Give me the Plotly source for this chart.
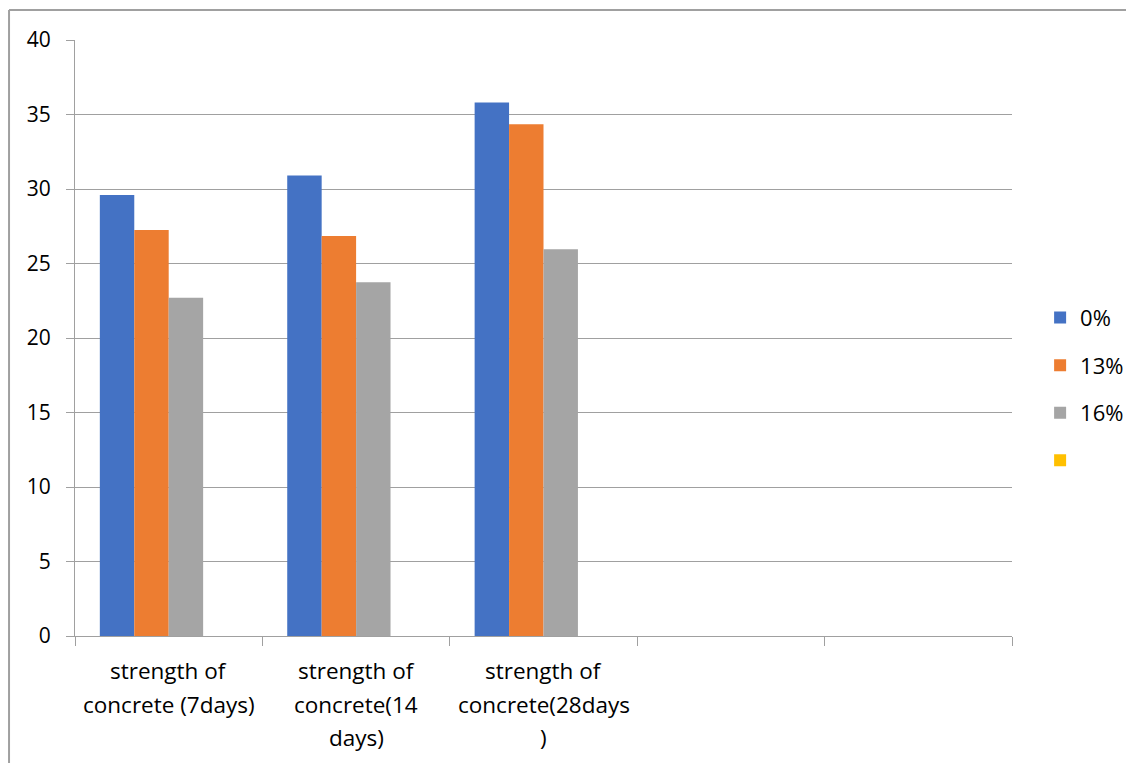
import plotly.graph_objects as go

categories = ["strength of concrete (7days)", "strength of concrete(14 days)",
              "strength of concrete(28days )", " ", "  "]
label_lines = [["strength of", "concrete (7days)"],
               ["strength of", "concrete(14", "days)"],
               ["strength of", "concrete(28days", ")"],
               [], []]
s0 = [29.6, 30.9, 35.8, None, None]
s13 = [27.25, 26.85, 34.35, None, None]
s16 = [22.7, 23.75, 25.95, None, None]
s_blank = [None, None, None, None, None]
series_names = ["0%", "13%", "16%", ""]
colors = ["#4472C4", "#ED7D31", "#A5A5A5", "#FFC000"]
y_ticks = [0, 5, 10, 15, 20, 25, 30, 35, 40]

FONT = "Open Sans"
fig = go.Figure()
for i, (name, vals) in enumerate(zip(series_names, [s0, s13, s16, s_blank])):
    fig.add_trace(go.Bar(x=categories, y=vals, name=name, marker_color=colors[i],
                         marker_line_width=0, legendgroup=f"g{i}", showlegend=True))

for cat, lines in zip(categories, label_lines):
    for j, line in enumerate(lines):
        fig.add_annotation(x=cat, xref="x", y=0, yref="paper", text=line,
                           showarrow=False, yanchor="top", yshift=-17 - 33.5 * j,
                           font=dict(family=FONT, size=22.5, color="#000000"))

fig.update_layout(
    width=1134, height=763,
    margin=dict(l=67, r=130, t=32, b=135),
    paper_bgcolor="white", plot_bgcolor="white",
    barmode="group", bargap=0.265, bargroupgap=0,
    font=dict(family=FONT, size=21, color="#000000"),
    legend=dict(x=1.03, y=0.414, xanchor="left", yanchor="middle",
                tracegroupgap=16, font=dict(family=FONT, size=22),
                itemwidth=30, bgcolor="rgba(0,0,0,0)"),
    xaxis=dict(type="category", showticklabels=False, ticks="outside", tickson="boundaries",
               ticklen=9, tickcolor="#a0a0a0", showline=True, linecolor="#a0a0a0",
               linewidth=1, showgrid=False, range=[-0.5, 4.5]),
    yaxis=dict(range=[0, 40], tickvals=y_ticks, ticks="outside", ticklen=8,
               tickcolor="#a0a0a0", showline=True, linecolor="#a0a0a0", linewidth=1,
               showgrid=True, gridcolor="#a0a0a0", gridwidth=1, zeroline=False,
               tickfont=dict(family=FONT, size=21), ticklabelstandoff=11),
    shapes=[
        dict(type="line", xref="paper", yref="paper", x0=-0.0704, x1=1.15, y0=1.0503, y1=1.0503,
             line=dict(color="#a0a0a0", width=2)),
        dict(type="line", xref="paper", yref="paper", x0=-0.0704, x1=-0.0704, y0=1.0503, y1=-0.23,
             line=dict(color="#a0a0a0", width=2)),
    ],
)

fig.write_html("out.html")
